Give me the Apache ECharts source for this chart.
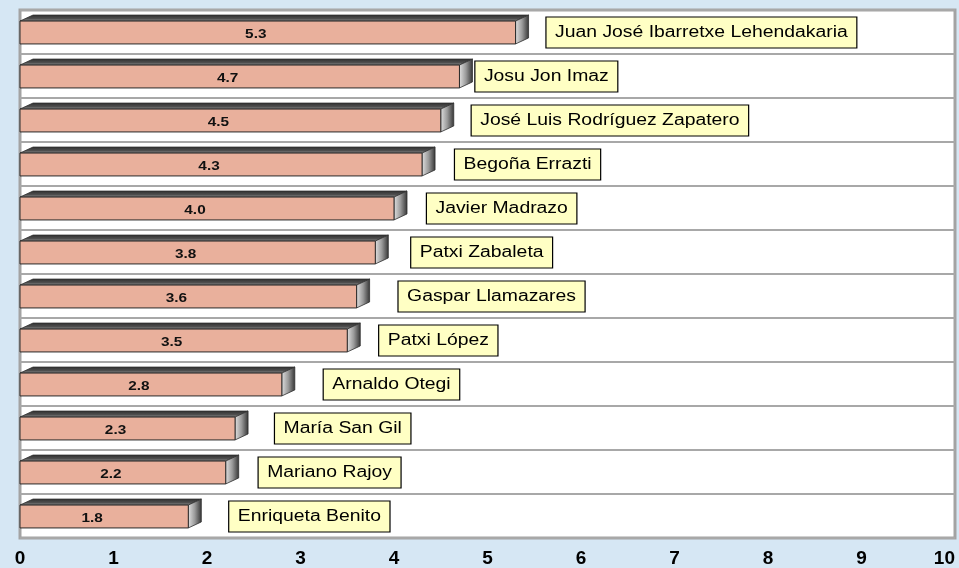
<!DOCTYPE html>
<html>
<head>
<meta charset="utf-8">
<script src="https://cdn.jsdelivr.net/npm/echarts@6/dist/echarts.min.js"></script>
<style>
  html, body { margin: 0; padding: 0; background: #d6e7f4; }
  #main { width: 959px; height: 568px; }
</style>
</head>
<body>
<div id="main"></div>
<script>
var names = ['Juan José Ibarretxe Lehendakaria', 'Josu Jon Imaz', 'José Luis Rodríguez Zapatero',
  'Begoña Errazti', 'Javier Madrazo', 'Patxi Zabaleta', 'Gaspar Llamazares', 'Patxi López',
  'Arnaldo Otegi', 'María San Gil', 'Mariano Rajoy', 'Enriqueta Benito'];
var values = [5.3, 4.7, 4.5, 4.3, 4.0, 3.8, 3.6, 3.5, 2.8, 2.3, 2.2, 1.8];
var ticks = [0, 1, 2, 3, 4, 5, 6, 7, 8, 9, 10];

// distance (px) from the bar end to its name box
var labelGap = [31, 16, 31, 33, 33, 36, 42, 32, 42, 40, 33, 41];

var myChart = echarts.init(document.getElementById('main'));
var font = 'Arial, "Liberation Sans", sans-serif';

var option = {
  backgroundColor: '#d6e7f4',
  animation: false,
  grid: {
    left: 20, right: 4, top: 10, bottom: 29,
    show: true,
    backgroundColor: '#ffffff',
    borderColor: '#a3a3a3',
    borderWidth: 3
  },
  xAxis: {
    type: 'value',
    min: ticks[0], max: ticks[ticks.length - 1], interval: 1,
    axisLine: { show: false },
    axisTick: { show: false },
    splitLine: { show: false },
    axisLabel: {
      color: '#000', fontSize: 19, fontWeight: 'bold', fontFamily: font,
      margin: 11, alignMaxLabel: 'right'
    }
  },
  yAxis: {
    type: 'category',
    data: names,
    inverse: true,
    axisLine: { show: false },
    axisTick: { show: false },
    axisLabel: { show: false },
    splitLine: { show: true, lineStyle: { color: '#a8a8a8', width: 2 } }
  },
  series: [{
    type: 'custom',
    clip: false,
    encode: { x: 0, y: 1 },
    data: values.map(function (v, i) { return [v, i]; }),
    renderItem: function (params, api) {
      var idx = api.value(1), val = api.value(0);
      var p0 = api.coord([0, idx]);
      var p1 = api.coord([val, idx]);
      var band = api.size([0, 1])[1];
      var h = band * 0.52, dx = 13, dy = 6;
      var yc = p0[1] + 0.5;
      var yT = yc - h / 2, yB = yc + h / 2;
      var x0 = p0[0], x1 = p1[0];
      return {
        type: 'group',
        children: [
          {
            type: 'polygon',
            shape: { points: [[x0, yT], [x0 + dx, yT - dy], [x1 + dx, yT - dy], [x1, yT]] },
            style: {
              fill: new echarts.graphic.LinearGradient(0, 1, 0, 0, [
                { offset: 0, color: '#9a9a9a' },
                { offset: 0.4, color: '#505050' },
                { offset: 1, color: '#2e2e2e' }
              ]),
              stroke: '#303030', lineWidth: 0.8
            }
          },
          {
            type: 'polygon',
            shape: { points: [[x1, yT], [x1 + dx, yT - dy], [x1 + dx, yB - dy], [x1, yB]] },
            style: {
              fill: new echarts.graphic.LinearGradient(0, 0, 1, 0, [
                { offset: 0, color: '#e2e2e2' },
                { offset: 0.5, color: '#9a9a9a' },
                { offset: 1, color: '#333333' }
              ]),
              stroke: '#303030', lineWidth: 0.8
            }
          },
          {
            type: 'rect',
            shape: { x: x0, y: yT, width: x1 - x0, height: h },
            style: { fill: '#e9b09c', stroke: '#2a2a2a', lineWidth: 1 }
          },
          {
            type: 'text',
            x: (x0 + x1) / 2 - 12, y: yc + 2,
            scaleX: 1.18,
            style: {
              text: val.toFixed(1),
              font: 'bold 13px ' + font,
              fill: '#111',
              align: 'center', verticalAlign: 'middle'
            }
          },
          {
            type: 'text',
            x: x1 + labelGap[idx], y: yc,
            scaleX: 1.21,
            style: {
              text: names[idx],
              font: '16px ' + font,
              fill: '#000',
              lineHeight: 18,
              align: 'left', verticalAlign: 'middle',
              backgroundColor: '#ffffc4',
              borderColor: '#000',
              borderWidth: 1,
              padding: [6, 7, 6, 7]
            }
          }
        ]
      };
    }
  }]
};
myChart.setOption(option);
</script>
</body>
</html>
